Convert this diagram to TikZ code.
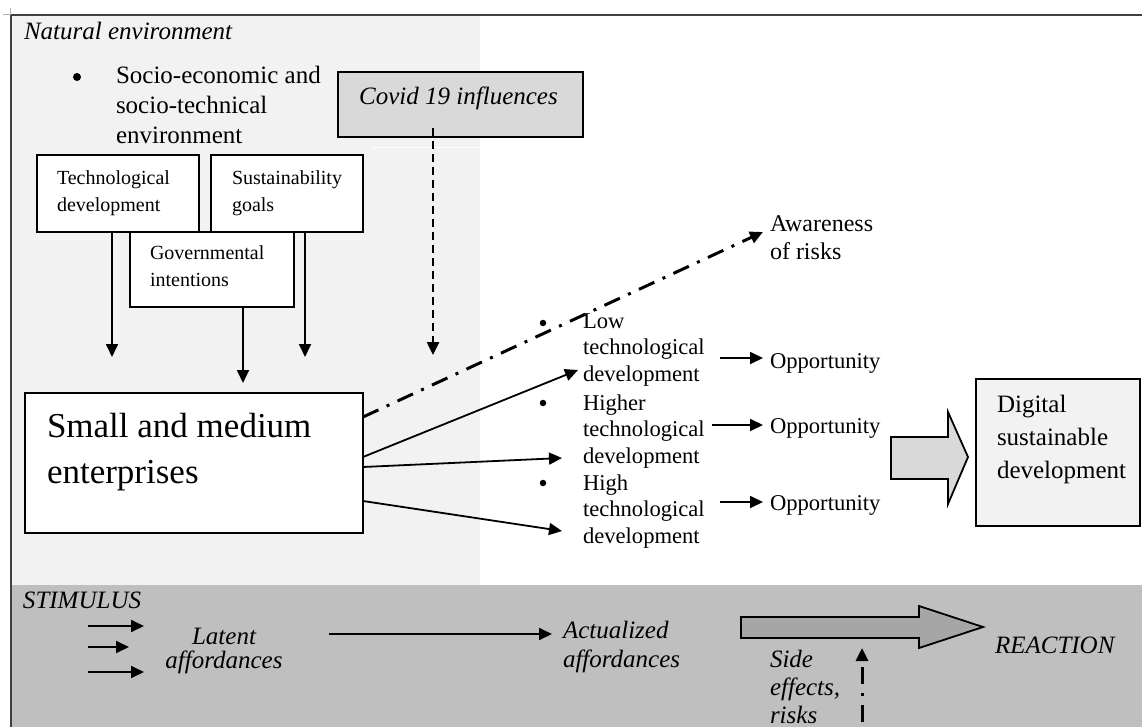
\documentclass[tikz,border=0pt]{standalone}
\usepackage{fontspec}
\setmainfont{Liberation Serif}
\usetikzlibrary{arrows.meta,calc}
\newcommand{\mytab}[1]{\begin{tabular}[t]{@{}l@{}}#1\end{tabular}}
\newcommand{\mytabc}[1]{\begin{tabular}[t]{@{}c@{}}#1\end{tabular}}
\newcommand{\fsz}[2]{\fontsize{#1}{#2}\selectfont}
\definecolor{lightbg}{HTML}{F2F2F2}
\definecolor{bandbg}{HTML}{BFBFBF}
\definecolor{covidfill}{HTML}{D9D9D9}
\definecolor{darkarrow}{HTML}{A6A6A6}
\definecolor{framecol}{HTML}{404040}
\begin{document}
\begin{tikzpicture}[x=1pt,y=-1pt,
  every node/.style={inner sep=0pt,outer sep=0pt},
  boxnode/.style={draw,line width=2pt,fill=white,anchor=north west},
  arr/.style={line width=1.8pt,-{Triangle[length=13pt,width=12pt]}},
  dashdot/.style={line width=3pt,dash pattern=on 17pt off 9pt on 3pt off 9pt,-{Triangle[length=13pt,width=12pt]}},
  dashline/.style={line width=2.5pt,dash pattern=on 8pt off 5pt,-{Triangle[length=13pt,width=12pt]}},
  bulletdot/.style={circle,fill=black,minimum size=#1},
  blockarr/.style={draw,line width=1.8pt,line join=miter}
]
\useasboundingbox (0,0) rectangle (1142,727);
% backgrounds
\fill[lightbg] (12,16) rectangle (480,585);
\fill[bandbg] (12,585) rectangle (1142,727);
\draw[framecol,line width=1.5pt] (11,727) -- (11,15) -- (1142,15);
\draw[gray!60,line width=0.8pt] (3,14) -- (10,14) -- (10,8);
\draw[white,line width=1pt] (372,148) -- (480,148);

% top-left texts
\node[anchor=base west] (nat) at (24,40) {\fsz{25}{30}\itshape Natural environment};
\node[bulletdot=8pt] (b0) at (77,77) {};
\node[anchor=base west] (socio) at (116,84) {\fsz{25}{30}\mytab{Socio-economic and\\socio-technical\\environment}};

% covid
\node[boxnode,fill=covidfill,minimum width=245pt,minimum height=65pt] (covid) at (338,72) {};
\node[anchor=base] (covidt) at (458.5,105) {\fsz{25}{30}\itshape Covid 19 influences};

% three boxes
\node[boxnode,minimum width=162pt,minimum height=77pt] (tech) at (37,155) {};
\node[anchor=base west] (techt) at (57,185) {\fsz{20}{27}\mytab{Technological\\development}};
\node[boxnode,minimum width=152pt,minimum height=77pt] (sust) at (211,155) {};
\node[anchor=base west] (sustt) at (232,185) {\fsz{20}{27}\mytab{Sustainability\\goals}};
\node[boxnode,minimum width=164pt,minimum height=75pt] (gov) at (130,232) {};
\node[anchor=base west] (govt) at (150,259) {\fsz{20}{27}\mytab{Governmental\\intentions}};

% SME
\node[boxnode,minimum width=338pt,minimum height=140pt] (sme) at (25,393) {};
\node[anchor=base west] (smet) at (47,437) {\fsz{35}{46}\mytab{Small and medium\\enterprises}};

% coordinates for connectors
\coordinate (a1) at (112,357);
\coordinate (a2) at (243,383);
\coordinate (a3) at (305,357);
\coordinate (a4) at (433,355);
\draw[arr] (tech.south -| a1) -- (a1);
\draw[arr] (gov.south -| a2) -- (a2);
\draw[arr] (sust.south -| a3) -- (a3);
\draw[dashline] ($(covid.south -| a4)+(0,-9)$) -- (a4);

% list
\node[bulletdot=6.5pt] (b1) at (543,323) {};
\node[bulletdot=6.5pt] (b2) at (543,403) {};
\node[bulletdot=6.5pt] (b3) at (543,483) {};
\node[anchor=base west] (low) at (583,328) {\fsz{22.6}{26.5}\mytab{Low\\technological\\development}};
\node[anchor=base west] (higher) at (583,410) {\fsz{22.6}{26.5}\mytab{Higher\\technological\\development}};
\node[anchor=base west] (high) at (583,490) {\fsz{22.6}{26.5}\mytab{High\\technological\\development}};

% awareness
\node[anchor=base west] (aware) at (770,232) {\fsz{24}{28}\mytab{Awareness\\of risks}};
\coordinate (d0) at (0,417);
\coordinate (d1) at (763,232);
\draw[dashdot] (sme.east |- d0) -- (d1);

% SME arrows
\coordinate (s1) at (0,457);
\coordinate (s2) at (0,467);
\coordinate (s3) at (0,501);
\coordinate (e1) at (578,370);
\coordinate (e2) at (562,458);
\coordinate (e3) at (562,531);
\draw[arr] (sme.east |- s1) -- (e1);
\draw[arr] (sme.east |- s2) -- (e2);
\draw[arr] (sme.east |- s3) -- (e3);

% opportunities
\node[anchor=base west] (o1) at (770,368) {\fsz{22.6}{26}Opportunity};
\node[anchor=base west] (o2) at (770,433) {\fsz{22.6}{26}Opportunity};
\node[anchor=base west] (o3) at (770,510) {\fsz{22.6}{26}Opportunity};
\coordinate (p1) at (720,358);
\coordinate (p2) at (712,425);
\coordinate (p3) at (720,502);
\coordinate (q1) at (763,358);
\coordinate (q2) at (763,425);
\coordinate (q3) at (763,502);
\draw[arr] (p1) -- (q1);
\draw[arr] (p2) -- (q2);
\draw[arr] (p3) -- (q3);

% block arrow top
\draw[blockarr,fill=covidfill] (891,437) -- (948,437) -- (948,412) -- (968,457) -- (948,504) -- (948,479) -- (891,479) -- cycle;

% digital box
\node[boxnode,fill=lightbg,minimum width=164pt,minimum height=147pt] (digital) at (976,379) {};
\node[anchor=base west] (digitalt) at (997,412) {\fsz{25}{33}\mytab{Digital\\sustainable\\development}};

% bottom band
\node[anchor=base west] (stim) at (23,608) {\fsz{25}{30}\itshape STIMULUS};
\coordinate (l1s) at (88,626); \coordinate (l1e) at (144,626);
\coordinate (l2s) at (88,647); \coordinate (l2e) at (129,647);
\coordinate (l3s) at (88,672); \coordinate (l3e) at (144,672);
\draw[arr] (l1s) -- (l1e);
\draw[arr] (l2s) -- (l2e);
\draw[arr] (l3s) -- (l3e);
\node[anchor=base] (latent) at (224,644) {\fsz{25}{23}\itshape\mytabc{Latent\\affordances}};
\node[anchor=base west] (actual) at (563,638) {\fsz{25}{29}\itshape\mytab{Actualized\\affordances}};
\coordinate (m1) at (329,634);
\coordinate (m2) at (552,634);
\draw[arr] (m1) -- (m2);
\draw[blockarr,fill=darkarrow] (741,617) -- (919,617) -- (919,606) -- (983,627) -- (919,648) -- (919,638) -- (741,638) -- cycle;
\node[anchor=base west] (react) at (995,653) {\fsz{25}{30}\itshape REACTION};
\node[anchor=base west] (side) at (770,667) {\fsz{25}{28}\itshape\mytab{Side\\effects,\\risks}};
\coordinate (r0) at (862,727);
\coordinate (r1) at (862,648);
\draw[dashdot,dash phase=33pt] (r0) -- (r1);
\end{tikzpicture}
\end{document}
